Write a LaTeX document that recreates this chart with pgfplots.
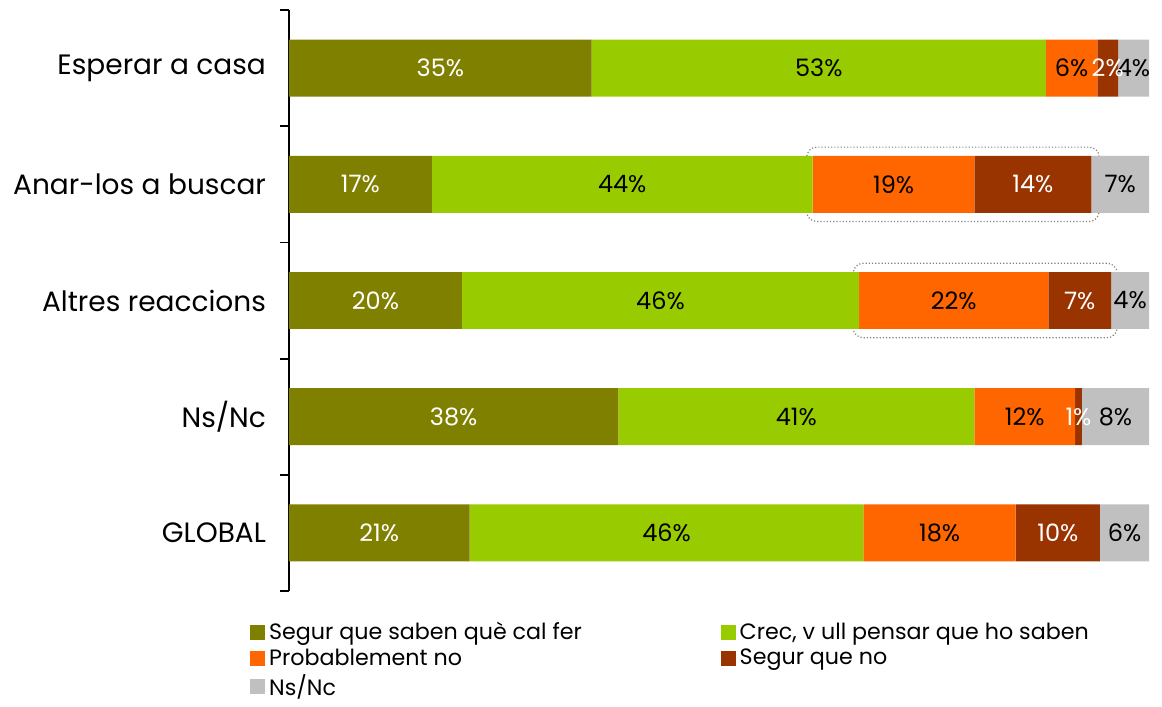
\documentclass[border=0pt]{standalone}
\usepackage{pgfplots}
\pgfplotsset{compat=1.18}
\usepackage{fontspec}
\setmainfont{Poppins}
\definecolor{cOlive}{HTML}{808000}
\definecolor{cLime}{HTML}{99CC00}
\definecolor{cOrange}{HTML}{FF6600}
\definecolor{cBrown}{HTML}{993300}
\definecolor{cGray}{HTML}{C0C0C0}
\begin{document}
\begin{tikzpicture}
\begin{axis}[
  xbar stacked,
  scale only axis,
  width=430pt, height=290.5pt,
  xmin=0, xmax=100,
  ymin=0.5, ymax=5.5, y dir=reverse,
  bar width=0.49,
  axis y line*=left, axis x line=none,
  ytick={1,2,3,4,5},
  yticklabels={Esperar a casa, Anar-los a buscar, Altres reaccions, Ns/Nc, GLOBAL},
  major tick length=0pt,
  minor ytick={0.5,1.5,2.5,3.5,4.5,5.5},
  minor tick length=4.5pt,
  tick align=outside,
  every tick/.style={black, line width=0.9pt},
  axis line style={black, line width=0.9pt},
  yticklabel style={font=\fontsize{14}{16}\selectfont, xshift=-8pt},
  /pgf/number format/assume math mode=true,
  visualization depends on={rawx \as \rawxval},
  nodes near coords={\pgfmathprintnumber[fixed,precision=0]{\rawxval}\%},
  every node near coord/.append style={anchor=center, font=\fontsize{12}{14}\selectfont, inner sep=1pt},
  legend columns=2,
  legend cell align=left,
  legend style={draw=none, at={(axis description cs:0,0)}, anchor=north west, xshift=-22.5pt, yshift=-11.5pt,
    font=\fontsize{11.1}{12}\selectfont, row sep=-1pt,
    /tikz/every even column/.append style={column sep=67.5pt}},
  legend image code/.code={\fill[#1] (0pt,-3.7pt) rectangle (7.4pt,3.7pt);},
]
\addplot[fill=cOlive, draw=none, every node near coord/.append style={text=white}] coordinates {(35.2,1) (16.6,2) (20.1,3) (38.3,4) (21.0,5)};
\addplot[fill=cLime, draw=none, every node near coord/.append style={text=black}] coordinates {(52.8,1) (44.3,2) (46.2,3) (41.4,4) (45.8,5)};
\addplot[fill=cOrange, draw=none, every node near coord/.append style={text=black}] coordinates {(6.0,1) (18.8,2) (22.0,3) (11.7,4) (17.7,5)};
\addplot[fill=cBrown, draw=none, every node near coord/.append style={text=white}] coordinates {(2.4,1) (13.6,2) (7.3,3) (0.8,4) (9.8,5)};
\addplot[fill=cGray, draw=none, every node near coord/.append style={text=black}] coordinates {(3.6,1) (6.7,2) (4.4,3) (7.8,4) (5.7,5)};
\legend{Segur que saben què cal fer, {Crec, v ull pensar que ho saben}, Probablement no, Segur que no, Ns/Nc}
\draw[gray, densely dotted, line width=0.6pt, rounded corners=5pt] (axis cs:60.2,1.68) rectangle (axis cs:94.2,2.32);
\draw[gray, densely dotted, line width=0.6pt, rounded corners=5pt] (axis cs:65.6,2.68) rectangle (axis cs:96.3,3.32);
\end{axis}
\path ([xshift=-144.5pt]current axis.west) ([xshift=6.5pt]current axis.east) ([yshift=5pt]current axis.north);
\end{tikzpicture}
\end{document}
